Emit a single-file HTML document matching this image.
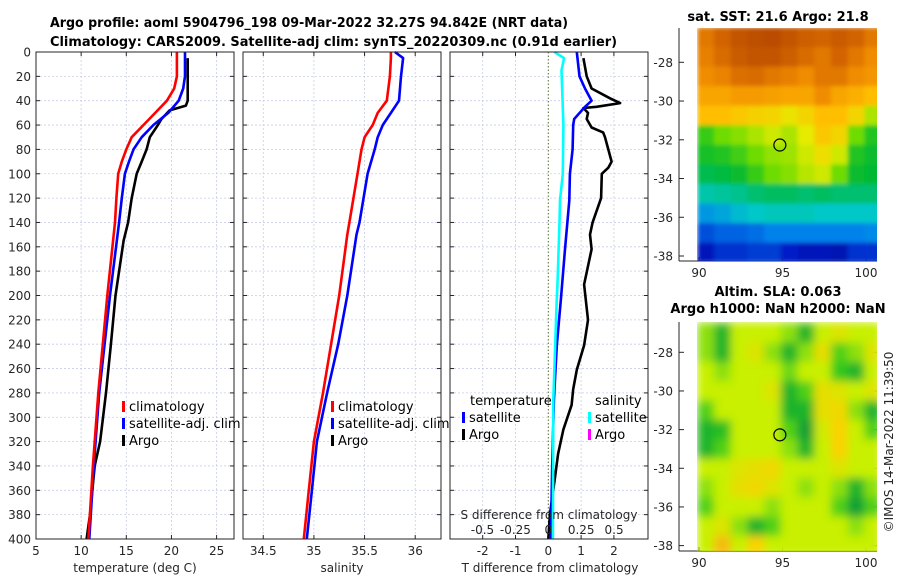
<!DOCTYPE html>
<html><head><meta charset="utf-8">
<style>
html,body{margin:0;padding:0;background:#fff;}
svg{display:block;font-family:"DejaVu Sans","Liberation Sans",sans-serif;}
.tk{font-size:12px;fill:#262626;}
.ttl{font-size:13px;font-weight:bold;fill:#000;}
.lg{font-size:13px;fill:#000;}
</style></head>
<body>
<svg id="fig" width="900" height="580" viewBox="0 0 900 580" xmlns="http://www.w3.org/2000/svg">
<defs>
<clipPath id="c1"><rect x="697" y="28" width="180" height="233"/></clipPath>
<clipPath id="c2"><rect x="697" y="322" width="180" height="229"/></clipPath>
<filter id="blur" x="0" y="0" width="100%" height="100%"><feGaussianBlur stdDeviation="4.5" edgeMode="duplicate"/></filter>
<filter id="blur1" x="0" y="0" width="100%" height="100%"><feGaussianBlur stdDeviation="2" edgeMode="duplicate"/></filter>
</defs>
<text class="ttl" x="50" y="27" textLength="518" lengthAdjust="spacingAndGlyphs">Argo profile: aoml 5904796_198 09-Mar-2022 32.27S 94.842E (NRT data)</text>
<text class="ttl" x="50" y="46" textLength="567" lengthAdjust="spacingAndGlyphs">Climatology: CARS2009. Satellite-adj clim: synTS_20220309.nc (0.91d earlier)</text>
<g id="root"></g>
</svg>
<script>
// ---- Data ----
const tDepth = [0,20,30,40,50,60,70,80,90,100,120,140,200,280,340,400];
const tClim  = [20.6,20.6,20.3,19.5,18.2,16.9,15.6,15.0,14.5,14.1,13.9,13.75,12.9,11.9,11.3,10.8];
const tSat   = [21.5,21.5,21.3,20.8,19.65,18.0,16.7,15.8,15.3,14.85,14.5,14.2,13.2,12.0,11.4,10.9];
const argoDepth = [5,20,40,44,48,55,60,70,80,90,100,120,140,155,200,240,280,320,340,380,400];
const argoTemp  = [21.8,21.8,21.8,21.6,19.8,18.9,18.5,17.6,17.25,16.7,16.15,15.6,15.2,14.7,13.8,13.3,12.75,12.1,11.5,10.98,10.6];
const sDepth = [0,5,20,40,50,60,70,80,100,140,150,200,240,280,320,360,400];
const sClim  = [35.76,35.76,35.75,35.72,35.63,35.58,35.5,35.47,35.43,35.35,35.33,35.25,35.17,35.09,35.0,34.95,34.9];
const sSat   = [35.8,35.88,35.86,35.84,35.76,35.68,35.63,35.6,35.53,35.45,35.42,35.33,35.24,35.13,35.03,34.98,34.93];
const dDepthS = [0,5,15,60,100,122,140,190,204,286,400];
const dSalSat = [0.046,0.12,0.10,0.115,0.11,0.089,0.085,0.07,0.064,0.038,0.035];
const dDepthT = [0,20,30,40,45,55,60,80,100,122,162,204,241,286,340,400];
const dTempSat = [0.87,0.95,1.12,1.32,1.12,0.79,0.76,0.74,0.66,0.64,0.51,0.38,0.26,0.17,0.12,0.08];
const dDepthA = [5,20,30,38,42,45,46,50,55,62,66,70,80,90,95,100,120,140,150,162,191,220,241,261,277,290,310,330,350,380,400];
const dTempArgo = [1.07,1.17,1.32,1.88,2.19,1.47,1.07,1.21,1.17,1.32,1.67,1.73,1.83,1.93,1.83,1.63,1.61,1.35,1.27,1.32,1.09,1.21,1.09,0.87,0.76,0.71,0.46,0.3,0.2,0.05,0.0];
const depthTicks = [0,20,40,60,80,100,120,140,160,180,200,220,240,260,280,300,320,340,360,380,400];
const tTicks = [5,10,15,20,25];
const sTicks = [34.5,35,35.5,36];
const dTicks = [-2,-1,0,1,2];
const sdTicks = [-0.5,-0.25,0,0.25,0.5];
const sdTickLabels = ['-0.5','-0.25','0','0.25','0.5'];
const lonTicks = [90,95,100];
const latTicks1 = [-28,-30,-32,-34,-36,-38];
const sstGrid = [
 [8.5,9,9.5,9.7,9.8,9.5,9.2,9,9.3,9,8.5],
 [8.3,8.8,9.3,9.5,9.5,9.2,8.8,8.5,9,8.5,8],
 [8,8.2,8.7,8.8,8.5,8.3,8,8.5,8.5,8,7.8],
 [7.5,7.5,7.7,7.7,7.6,7.5,7.5,8,7.5,7.3,7],
 [7,7,6.8,6.6,6.5,6.2,6.5,7,7,6.5,5.5],
 [4.5,5,5.2,5.5,5.8,5.5,6,6.8,6.5,5,4.3],
 [4.2,4.3,4.6,5,5.3,5.4,5.8,6.3,5.8,4.3,4.1],
 [3.8,3.9,4.1,4.5,5,5.2,5.6,5.8,5,4.1,4],
 [3.2,3.3,3.4,3.6,3.7,3.7,3.6,3.7,3.6,3.6,3.6],
 [2.3,2.5,2.8,3,3.1,3.1,3.1,3,3,3,3],
 [1.5,1.7,1.7,1.8,2,2,2,2,2,2,2.1],
 [0.8,1.2,1.2,1.3,1.3,1,0.8,0.8,0.7,1.2,1.2]];
const slaGrid = [
 [.4,.15,.5,.5,.5,.4,.15,.5,.6,.5,.5],
 [.4,.15,.5,.6,.4,.15,.4,.65,.3,.4,.6],
 [.5,.4,.5,.5,.5,.35,.5,.5,.25,.15,.5],
 [.5,.5,.5,.5,.6,.15,.3,.65,.6,.5,.6],
 [.3,.5,.5,.5,.5,.15,.15,.65,.7,.4,.15],
 [.15,.2,.5,.5,.5,.3,.05,.55,.75,.5,.3],
 [.15,.3,.5,.5,.5,.4,.15,.5,.75,.5,.5],
 [.5,.5,.6,.65,.7,.5,.5,.5,.6,.5,.5],
 [.4,.5,.65,.7,.6,.5,.4,.5,.4,.15,.4],
 [.3,.5,.5,.5,.4,.5,.5,.5,.3,.05,.3],
 [.5,.6,.4,.15,.3,.5,.5,.5,.5,.4,.5],
 [.5,.85,.5,.75,.5,.5,.5,.5,.5,.5,.5]];
const argoLon = 94.842, argoLat = -32.27;

// ---- Scales ----
const PT=52, PB=539;
const yD = d => PT + d*(PB-PT)/400;
const xT = t => 36 + (t-5)*9.03;
const xS = s => 243 + (s-34.3)*101.3;
const xDT = d => 548.3 + d*32.8;
const xDS = s => 548.3 + s*131.6;
const mx = lon => 699 + (lon-90)*16.7;
const my1 = lat => 62.3 + (-28-lat)*19.37;
const my2 = lat => 352.3 + (-28-lat)*19.33;

const NS='http://www.w3.org/2000/svg';
const root=document.getElementById('root');
function mk(tag, attrs, parent){const e=document.createElementNS(NS,tag);for(const k in attrs)e.setAttribute(k,attrs[k]);(parent||root).appendChild(e);return e;}
function txt(s, attrs, parent){const e=mk('text',attrs,parent);e.textContent=s;return e;}

function panel(x0, name){
  const g=mk('g',{});
  
  
  depthTicks.forEach(d=>{
    const l=mk('line',{x1:x0,x2:x0+198,y1:yD(d),y2:yD(d),stroke:'#c8cde8','stroke-width':0.8,'stroke-dasharray':'2,2'},g);
    
    
    mk('line',{x1:x0,x2:x0+4,y1:yD(d),y2:yD(d),stroke:'#262626'},g);
    mk('line',{x1:x0+198,x2:x0+194,y1:yD(d),y2:yD(d),stroke:'#262626'},g);
  });
  return g;
}
function vgrid(g,xs){xs.forEach(x=>{
  const l=mk('line',{x1:x,x2:x,y1:PT,y2:PB,stroke:'#c8cde8','stroke-width':0.8,'stroke-dasharray':'2,2'},g);
  
  
  mk('line',{x1:x,x2:x,y1:PB,y2:PB-4,stroke:'#262626'},g);
  mk('line',{x1:x,x2:x,y1:PT,y2:PT+4,stroke:'#262626'},g);
});}
function line(g,xs,ys,fx,color,name){
  const pts=xs.map((v,i)=>fx(v).toFixed(1)+','+yD(ys[i]).toFixed(1)).join(' ');
  const p=mk('polyline',{points:pts,fill:'none',stroke:color,'stroke-width':2.6,'stroke-linejoin':'round'},g);
  
  
}
function frame(g,x0){mk('rect',{x:x0,y:PT,width:198,height:PB-PT,fill:'none',stroke:'#262626','stroke-width':1},g);}
function legendItem(g,x,y,color,label,name){
  mk('rect',{x:x,y:y-10,width:3,height:11,fill:color},g);
  const t=txt(label,{x:x+7,y:y,class:'lg'},g);
  
  
}

depthTicks.forEach(d=>{txt(String(d),{x:31,y:yD(d)+4.5,class:'tk','text-anchor':'end'});});

// Panel 1
const g1=panel(36,'temperature-panel');
vgrid(g1,tTicks.map(xT));
line(g1,argoTemp,argoDepth,xT,'#000','argo-temperature-line');
line(g1,tSat,tDepth,xT,'#0000ff','satellite-temperature-line');
line(g1,tClim,tDepth,xT,'#ff0000','climatology-temperature-line');
frame(g1,36);
tTicks.forEach(t=>txt(String(t),{x:xT(t),y:555,class:'tk','text-anchor':'middle'},g1));
txt('temperature (deg C)',{x:135,y:572,class:'tk','text-anchor':'middle','font-size':13},g1);
legendItem(g1,122,411,'#ff0000','climatology','legend-climatology');
legendItem(g1,122,428,'#0000ff','satellite-adj. clim','legend-satellite-adj');
legendItem(g1,122,445,'#000','Argo','legend-argo');

// Panel 2
const g2=panel(243,'salinity-panel');
vgrid(g2,sTicks.map(xS));
line(g2,sSat,sDepth,xS,'#0000ff','satellite-salinity-line');
line(g2,sClim,sDepth,xS,'#ff0000','climatology-salinity-line');
frame(g2,243);
sTicks.forEach(s=>txt(String(s),{x:xS(s),y:555,class:'tk','text-anchor':'middle'},g2));
txt('salinity',{x:342,y:572,class:'tk','text-anchor':'middle','font-size':13},g2);
legendItem(g2,331,411,'#ff0000','climatology','legend-climatology-2');
legendItem(g2,331,428,'#0000ff','satellite-adj. clim','legend-satellite-adj-2');
legendItem(g2,331,445,'#000','Argo','legend-argo-2');

// Panel 3
const g3=panel(450,'difference-panel');
vgrid(g3,dTicks.filter(d=>d!==0).map(xDT));
mk('line',{x1:xDT(0),x2:xDT(0),y1:PT,y2:PB,stroke:'#556b2f','stroke-width':1,'stroke-dasharray':'1.5,2'},g3);
line(g3,dTempArgo,dDepthA,xDT,'#000','argo-temperature-difference-line');
line(g3,dTempSat,dDepthT,xDT,'#0000ff','satellite-temperature-difference-line');
line(g3,dSalSat,dDepthS,xDS,'#00ffff','satellite-salinity-difference-line');
frame(g3,450);
dTicks.forEach(d=>txt(String(d),{x:xDT(d),y:555,class:'tk','text-anchor':'middle'},g3));
txt('T difference from climatology',{x:550,y:572,class:'tk','text-anchor':'middle','font-size':13},g3);
txt('S difference from climatology',{x:549,y:519,class:'tk','text-anchor':'middle','font-size':13.5},g3);
sdTicks.forEach((s,i)=>txt(sdTickLabels[i],{x:xDS(s),y:534,class:'tk','text-anchor':'middle','font-size':13},g3));
txt('temperature',{x:470,y:405,class:'lg'},g3);
txt('salinity',{x:595,y:405,class:'lg'},g3);
legendItem(g3,462,422,'#0000ff','satellite','legend-t-satellite');
legendItem(g3,462,439,'#000','Argo','legend-t-argo');
legendItem(g3,588,422,'#00ffff','satellite','legend-s-satellite');
legendItem(g3,588,439,'#ff00ff','Argo','legend-s-argo');

function interp(stops,v){
  v=Math.max(0,Math.min(1,v));
  for(let i=1;i<stops.length;i++){if(v<=stops[i][0]){const a=stops[i-1],b=stops[i],f=(v-a[0])/(b[0]-a[0]);
    return 'rgb('+[1,2,3].map(k=>Math.round(a[k]+(b[k]-a[k])*f)).join(',')+')';}}
  const l=stops[stops.length-1];return 'rgb('+l[1]+','+l[2]+','+l[3]+')';
}
const jet=[[0,0,0,130],[0.1,0,30,200],[0.2,0,130,235],[0.3,0,200,200],[0.4,0,185,50],[0.5,110,220,0],[0.6,230,235,0],[0.7,255,190,0],[0.8,240,140,0],[0.9,210,100,0],[1,180,70,0]];
const slaMap=[[0,0,150,60],[0.25,50,200,30],[0.5,200,240,0],[0.75,250,210,0],[1,240,150,20]];

function mapAxes(top,bottom,my,name){
  const g=mk('g',{});
  
  
  mk('line',{x1:679,x2:679,y1:top,y2:bottom,stroke:'#262626'},g);
  mk('line',{x1:679,x2:877,y1:bottom,y2:bottom,stroke:'#262626'},g);
  latTicks1.forEach(l=>{const y=my(l);
    mk('line',{x1:679,x2:684,y1:y,y2:y,stroke:'#262626'},g);
    mk('line',{x1:877,x2:872,y1:y,y2:y,stroke:'#262626'},g);
    txt(String(l),{x:673,y:y+4.5,class:'tk','text-anchor':'end'},g);});
  lonTicks.forEach(l=>{const x=mx(l);
    mk('line',{x1:x,x2:x,y1:bottom,y2:bottom-4,stroke:'#262626'},g);
    txt(String(l),{x:x,y:bottom+16,class:'tk','text-anchor':'middle'},g);});
  return g;
}
// Map 1 SST
const m1=mapAxes(28,261,my1,'sst-map');
const h1=mk('g',{'clip-path':'url(#c1)'},m1);
const h1b=mk('g',{filter:'url(#blur1)'},h1);
sstGrid.forEach((row,r)=>row.forEach((v,c)=>{
  const lat=-26.2-r*1.01, lon=89.9+c;
  const cell=mk('rect',{x:mx(lon).toFixed(1),y:my1(lat).toFixed(1),width:17.2,height:20,fill:interp(jet,v/10)},h1b);
  
  
}));
mk('circle',{cx:mx(argoLon),cy:my1(argoLat),r:6,fill:'none',stroke:'#000','stroke-width':1.2},m1);
txt('sat. SST: 21.6 Argo: 21.8',{x:778,y:21,class:'ttl','text-anchor':'middle'},m1);

// Map 2 SLA
const m2=mapAxes(322,551,my2,'sla-map');
const h2=mk('g',{'clip-path':'url(#c2)'},m2);
const h2b=mk('g',{filter:'url(#blur)'},h2);
mk('rect',{x:697,y:322,width:180,height:229,fill:interp(slaMap,0.5)},h2b);
slaGrid.forEach((row,r)=>row.forEach((v,c)=>{
  const lat=-26.5-r*1.0, lon=89.9+c;
  const cell=mk('rect',{x:mx(lon).toFixed(1),y:my2(lat).toFixed(1),width:17.2,height:19.8,fill:interp(slaMap,v)},h2b);
  
  
}));
mk('circle',{cx:mx(argoLon),cy:my2(argoLat),r:6,fill:'none',stroke:'#000','stroke-width':1.2},m2);
txt('Altim. SLA: 0.063',{x:778,y:296,class:'ttl','text-anchor':'middle'},m2);
txt('Argo h1000: NaN h2000: NaN',{x:778,y:313,class:'ttl','text-anchor':'middle'},m2);

const cp=txt('©IMOS 14-Mar-2022 11:39:50',{x:0,y:0,class:'tk','text-anchor':'middle',transform:'translate(893,442) rotate(-90)','font-size':12.5});


</script>
</body></html>
